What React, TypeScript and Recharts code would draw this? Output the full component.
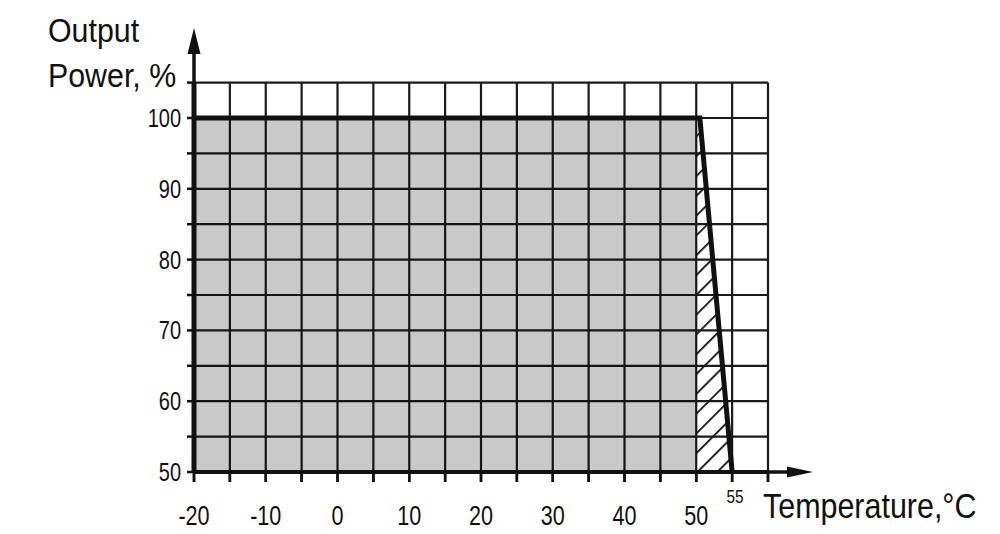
/**
 * App.tsx - Output power derating vs ambient temperature
 */

import React from 'react';
import { ComposedChart, Area, Line, XAxis, YAxis, CartesianGrid } from 'recharts';

// Curve points (temperature, °C)
const temperatures = [-20, 50, 50.5, 55];
// Full power zone (grey) and derating zone (hatched)
const safeZone = [100, 100, null, null];
const deratingZone = [null, 100, 100, 50];
// Output power curve, %
const outputPower = [100, 100, 100, 50];

// Axes
const xTicks = [-20, -15, -10, -5, 0, 5, 10, 15, 20, 25, 30, 35, 40, 45, 50, 55, 60];
const yTicks = [50, 55, 60, 65, 70, 75, 80, 85, 90, 95, 100, 105];
const xLabels = [-20, -10, 0, 10, 20, 30, 40, 50];
const yLabels = [50, 60, 70, 80, 90, 100];
const xMarkLabel = 55;
const X_DOMAIN = [-20, 60];
const Y_DOMAIN = [50, 105];

const data = temperatures.map((t, i) => ({
  t,
  safe: safeZone[i],
  derating: deratingZone[i],
  power: outputPower[i],
}));

const W = 1000;
const H = 534;
const PLOT_LEFT = 194;
const PLOT_RIGHT = 768;
const PLOT_TOP = 82.6;
const PLOT_BOTTOM = 472;
const Y_AXIS_W = 60;
const X_AXIS_H = 56;
const X_TICK = 10;
const FONT = "'Liberation Sans', Arial, sans-serif";
const INK = '#111';

// same linear mapping as the x axis (for the tick marks below it)
const xPx = (v: number) =>
  PLOT_LEFT + ((v - X_DOMAIN[0]) / (X_DOMAIN[1] - X_DOMAIN[0])) * (PLOT_RIGHT - PLOT_LEFT);

// x tick labels: every 10, plus the small "55"
const XTick = ({ x, payload }: any) => {
  const v = payload?.value;
  if (xLabels.includes(v)) {
    return (
      <text transform={`translate(${x},${PLOT_BOTTOM + 53}) scale(0.8,1)`} textAnchor="middle"
        fontFamily={FONT} fontSize={27} fill={INK}>{v}</text>
    );
  }
  if (v === xMarkLabel) {
    return (
      <text transform={`translate(${x + 3},${PLOT_BOTTOM + 31}) scale(0.85,1)`} textAnchor="middle"
        fontFamily={FONT} fontSize={18} fill={INK}>{v}</text>
    );
  }
  return <g />;
};

const YTick = ({ y, payload }: any) => {
  const v = payload?.value;
  if (!yLabels.includes(v)) return <g />;
  return (
    <text transform={`translate(${PLOT_LEFT - 13},${y + 9}) scale(0.8,1)`} textAnchor="end"
      fontFamily={FONT} fontSize={25} fill={INK}>{v}</text>
  );
};

export default function App() {
  return (
    <div style={{ position: 'absolute', left: 0, top: 0, width: W, height: H, background: '#fff' }}>
      <ComposedChart
        width={W}
        height={H}
        data={data}
        margin={{
          left: PLOT_LEFT - Y_AXIS_W,
          right: W - PLOT_RIGHT,
          top: PLOT_TOP,
          bottom: H - PLOT_BOTTOM - X_AXIS_H,
        }}
      >
        <defs>
          <pattern id="hatch" patternUnits="userSpaceOnUse" width="14" height="14" patternTransform="rotate(45)">
            <line x1="0" y1="0" x2="0" y2="14" stroke={INK} strokeWidth="3.6" />
          </pattern>
        </defs>
        <CartesianGrid stroke="#1a1a1a" strokeWidth={2.2} />
        <XAxis
          dataKey="t"
          type="number"
          domain={X_DOMAIN}
          ticks={xTicks}
          interval={0}
          height={X_AXIS_H}
          tickSize={X_TICK}
          tickMargin={0}
          tickLine={{ stroke: INK, strokeWidth: 2.5 }}
          axisLine={{ stroke: INK, strokeWidth: 4 }}
          tick={<XTick />}
        />
        <YAxis
          type="number"
          domain={Y_DOMAIN}
          ticks={yTicks}
          interval={0}
          width={Y_AXIS_W}
          tickSize={7}
          tickMargin={0}
          tickLine={{ stroke: INK, strokeWidth: 2.5 }}
          axisLine={{ stroke: INK, strokeWidth: 5 }}
          tick={<YTick />}
        />
        <Area
          dataKey="safe"
          type="linear"
          baseValue={Y_DOMAIN[0]}
          stroke="none"
          fill="#000"
          fillOpacity={0.21}
          isAnimationActive={false}
        />
        <Area
          dataKey="derating"
          type="linear"
          baseValue={Y_DOMAIN[0]}
          stroke="none"
          fill="url(#hatch)"
          fillOpacity={1}
          isAnimationActive={false}
        />
        <Line
          dataKey="power"
          type="linear"
          stroke={INK}
          strokeWidth={5}
          dot={false}
          activeDot={false}
          isAnimationActive={false}
        />

        {/* tick marks below the x axis */}
        {xTicks.map((v) => (
          <line key={`xt${v}`} x1={xPx(v)} y1={PLOT_BOTTOM} x2={xPx(v)} y2={PLOT_BOTTOM + X_TICK}
            stroke={INK} strokeWidth={2.5} />
        ))}

        {/* axis arrows */}
        <line x1={PLOT_LEFT} y1={PLOT_TOP} x2={PLOT_LEFT} y2={50} stroke={INK} strokeWidth={3.5} />
        <polygon points={`${PLOT_LEFT},28 ${PLOT_LEFT - 6.5},54 ${PLOT_LEFT + 6.5},54`} fill={INK} />
        <line x1={PLOT_RIGHT} y1={PLOT_BOTTOM} x2={792} y2={PLOT_BOTTOM} stroke={INK} strokeWidth={3.5} />
        <polygon points={`813,${PLOT_BOTTOM} 787,${PLOT_BOTTOM - 5.5} 787,${PLOT_BOTTOM + 5.5}`} fill={INK} />

        {/* axis titles */}
        <text transform="translate(48,42) scale(0.92,1)" fontFamily={FONT} fontSize={33} fill={INK}>Output</text>
        <text transform="translate(48,87) scale(0.92,1)" fontFamily={FONT} fontSize={33} fill={INK}>Power, %</text>
        <text transform="translate(763,518) scale(0.87,1)" fontFamily={FONT} fontSize={35} fill={INK}>Temperature,°C</text>
      </ComposedChart>
    </div>
  );
}
